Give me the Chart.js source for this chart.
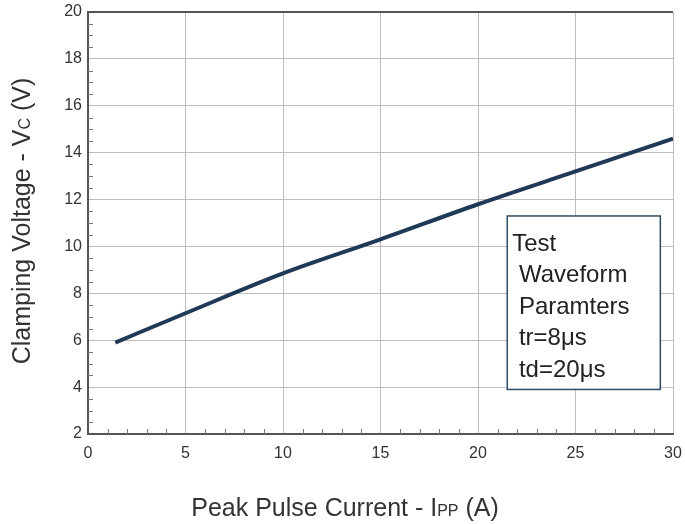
<!DOCTYPE html>
<html>
<head>
<meta charset="utf-8">
<script src="https://cdn.jsdelivr.net/npm/chart.js@4"></script>
<style>
  html, body { margin: 0; padding: 0; background: #fff; }
  #wrap { width: 685px; height: 524px; }
</style>
</head>
<body>
<div id="wrap"><canvas id="clamp"></canvas></div>
<script>
// data
var current = [1.4, 5, 10, 15, 20, 25, 30];
var voltage = [5.9, 7.15, 8.85, 10.3, 11.8, 13.2, 14.6];
var xTicks = [0, 5, 10, 15, 20, 25, 30];
var yTicks = [2, 4, 6, 8, 10, 12, 14, 16, 18, 20];
var noteLines = ["Test", " Waveform", " Paramters", " tr=8\u03bcs", " td=20\u03bcs"];

var FONT = "'Liberation Sans', Arial, sans-serif";

// minor ticks, top frame, axis titles and the note box
var extras = {
	id: "extras",
	afterDraw: function (chart) {
		var c = chart.ctx, a = chart.chartArea;
		var xs = chart.scales.x, ys = chart.scales.y;
		c.save();
		c.strokeStyle = "#777";
		c.lineWidth = 1;
		c.beginPath();
		for (var i = 1; i < 30; i++) {
			if (i % 5 === 0) continue;
			var px = Math.round(xs.getPixelForValue(i)) + 0.5;
			c.moveTo(px, a.bottom);
			c.lineTo(px, a.bottom - 5);
		}
		for (var v = 2.5; v < 20; v += 0.5) {
			if (v % 2 === 0) continue;
			var py = Math.round(ys.getPixelForValue(v)) + 0.5;
			c.moveTo(a.left, py);
			c.lineTo(a.left + 5, py);
		}
		c.stroke();

		// top frame
		c.strokeStyle = "#555";
		c.lineWidth = 2;
		c.beginPath();
		c.moveTo(a.left, a.top);
		c.lineTo(a.right, a.top);
		c.stroke();

		// note box
		var bx1 = xs.getPixelForValue(21.5), bx2 = xs.getPixelForValue(29.35);
		var by1 = ys.getPixelForValue(11.3), by2 = ys.getPixelForValue(3.9);
		c.fillStyle = "#fff";
		c.fillRect(bx1, by1, bx2 - bx1, by2 - by1);
		c.strokeStyle = "#2e4a62";
		c.lineWidth = 1.5;
		c.strokeRect(bx1, by1, bx2 - bx1, by2 - by1);
		c.fillStyle = "#222";
		c.font = "24px " + FONT;
		c.textBaseline = "alphabetic";
		c.textAlign = "left";
		for (var k = 0; k < noteLines.length; k++) {
			c.fillText(noteLines[k], bx1 + 5, by1 + 35 + k * 31.5);
		}

		// x title with subscript
		c.fillStyle = "#333";
		var parts = [["Peak Pulse Current - I", 25], ["PP", 16], [" (A)", 25]];
		var total = 0;
		parts.forEach(function (p) { c.font = p[1] + "px " + FONT; total += c.measureText(p[0]).width; });
		var x0 = 345 - total / 2, base = 516;
		parts.forEach(function (p) {
			c.font = p[1] + "px " + FONT;
			c.fillText(p[0], x0, base);
			x0 += c.measureText(p[0]).width;
		});

		// y title with subscript, rotated
		c.translate(30, 221);
		c.rotate(-Math.PI / 2);
		var yparts = [["Clamping Voltage - V", 25], ["C", 16], [" (V)", 25]];
		total = 0;
		yparts.forEach(function (p) { c.font = p[1] + "px " + FONT; total += c.measureText(p[0]).width; });
		x0 = -total / 2;
		yparts.forEach(function (p) {
			c.font = p[1] + "px " + FONT;
			c.fillText(p[0], x0, 0);
			x0 += c.measureText(p[0]).width;
		});
		c.restore();
	},
};

var ctx = document.getElementById("clamp").getContext("2d");
var clampChart = new Chart(ctx, {
	type: "line",
	data: {
		datasets: [
			{
				label: "Clamping Voltage",
				data: current.map(function (x, i) { return { x: x, y: voltage[i] }; }),
				borderColor: "#1f3a56",
				borderWidth: 4,
				pointRadius: 0,
				cubicInterpolationMode: "monotone",
				fill: false,
			},
		],
	},
	options: {
		responsive: true,
		maintainAspectRatio: false,
		animation: false,
		layout: { padding: { top: 12, right: 12, left: 0, bottom: 0 } },
		plugins: { legend: { display: false }, tooltip: { enabled: false } },
		scales: {
			x: {
				type: "linear",
				min: 0,
				max: 30,
				afterFit: function (s) { s.height = 90; s.paddingLeft = 0; s.paddingRight = 0; },
				afterBuildTicks: function (s) { s.ticks = xTicks.map(function (v) { return { value: v }; }); },
				grid: { color: "#bdbdbd", lineWidth: 1, drawTicks: false },
				border: { color: "#555", width: 2 },
				ticks: { color: "#333", font: { family: FONT, size: 16 }, padding: 10 },
			},
			y: {
				type: "linear",
				min: 2,
				max: 20,
				afterFit: function (s) { s.width = 88; s.paddingTop = 0; s.paddingBottom = 0; },
				afterBuildTicks: function (s) { s.ticks = yTicks.map(function (v) { return { value: v }; }); },
				grid: { color: "#bdbdbd", lineWidth: 1, drawTicks: false },
				border: { color: "#555", width: 2 },
				ticks: { color: "#333", font: { family: FONT, size: 16 }, padding: 6 },
			},
		},
	},
	plugins: [extras],
});
</script>
</body>
</html>
